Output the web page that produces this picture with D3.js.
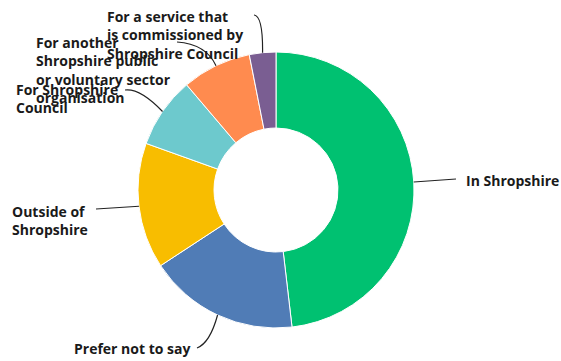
<!DOCTYPE html>
<html><head><meta charset="utf-8">
<script src="https://cdn.jsdelivr.net/npm/d3@7"></script>
<style>body{margin:0;background:#fff}svg{display:block}text{font-family:"Open Sans","Liberation Sans",sans-serif;font-weight:700;font-size:14px;fill:#1a1a1a}</style>
</head><body><svg id="c" width="561" height="361"></svg>
<script>
const categories = ["In Shropshire","Prefer not to say","Outside of Shropshire","For Shropshire Council","For another Shropshire public or voluntary sector organisation","For a service that is commissioned by Shropshire Council"];
const values = [48.1, 17.6, 14.7, 8.3, 8.1, 3.1];
const colors = ["#00c171","#507cb6","#f8bd00","#6dc9cd","#ff8b4f","#7a5e92"];
const labelLines = [["In Shropshire"],["Prefer not to say"],["Outside of","Shropshire"],["For Shropshire","Council"],["For another","Shropshire public","or voluntary sector","organisation"],["For a service that","is commissioned by","Shropshire Council"]];

const svg = d3.select("#c");
const cx = 276, cy = 190, R = 138, r = 62;
const g = svg.append("g").attr("transform",`translate(${cx},${cy})`);
const pie = d3.pie().sort(null).value(d=>d);
const arcs = pie(values);
const arc = d3.arc().innerRadius(r).outerRadius(R);
g.selectAll("path.s").data(arcs).join("path").attr("class","s")
  .attr("d",arc).attr("fill",(d,i)=>colors[i]).attr("stroke","#fff").attr("stroke-width",1);

const layout = [
  {tx:466, ty:181, ex:456, ey:179, c:null},
  {tx:74, ty:349, ex:197, ey:348, c:[210,343]},
  {tx:12, ty:212, ex:96, ey:209, c:null},
  {tx:16, ty:90, ex:125, ey:90, c:[140,88]},
  {tx:36, ty:43, ex:177, ey:42, c:[206,44]},
  {tx:107, ty:17, ex:254, ey:15, c:[263,16]}
];
const lh = 18.5;
arcs.forEach((a,i)=>{
  const m = (a.startAngle+a.endAngle)/2;
  const sx = cx + R*Math.sin(m), sy = cy - R*Math.cos(m);
  const L = layout[i];
  const p = d3.path();
  p.moveTo(sx,sy);
  if (L.c) p.quadraticCurveTo(L.c[0],L.c[1],L.ex,L.ey); else p.lineTo(L.ex,L.ey);
  svg.append("path").attr("d",p.toString()).attr("fill","none").attr("stroke","#222").attr("stroke-width",1.2);
  const t = svg.append("text");
  labelLines[i].forEach((s,j)=>t.append("tspan").attr("x",L.tx).attr("y",L.ty+j*lh).attr("dy","0.35em").text(s));
});
</script></body></html>
